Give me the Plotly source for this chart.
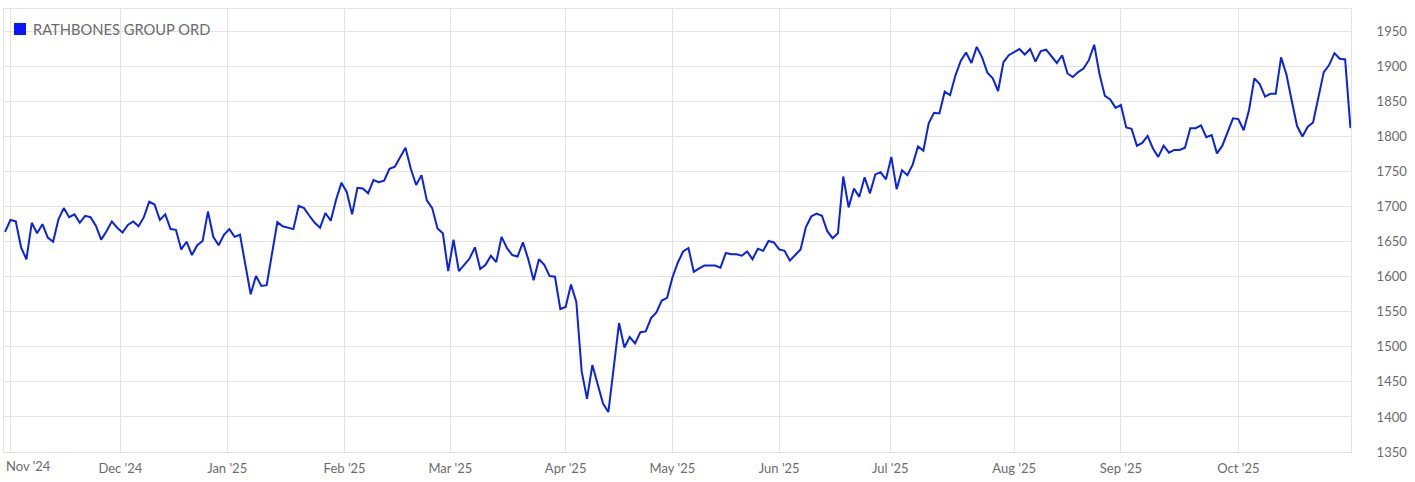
import plotly.graph_objects as go

series_name = "RATHBONES GROUP ORD"

# Daily closing prices (trading-day index 0 = 31 Oct 2024 ... 252 = 30 Oct 2025)
prices = [
    1664, 1681, 1679, 1642, 1625, 1677, 1662, 1675, 1656, 1650,
    1682, 1698, 1685, 1689, 1677, 1687, 1685, 1673, 1653, 1665,
    1679, 1670, 1663, 1674, 1679, 1672, 1685, 1707, 1703, 1681,
    1689, 1668, 1667, 1639, 1650, 1631, 1645, 1651, 1693, 1657,
    1645, 1660, 1668, 1657, 1660, 1615, 1575, 1601, 1587, 1588,
    1632, 1678, 1672, 1670, 1668, 1701, 1698, 1687, 1677, 1670,
    1691, 1680, 1710, 1734, 1721, 1689, 1727, 1726, 1719, 1738,
    1735, 1737, 1754, 1757, 1771, 1784, 1754, 1731, 1745, 1709,
    1698, 1669, 1662, 1608, 1653, 1608, 1617, 1626, 1642, 1611,
    1617, 1630, 1621, 1657, 1641, 1631, 1629, 1649, 1625, 1595,
    1625, 1617, 1601, 1600, 1554, 1557, 1589, 1564, 1465, 1426,
    1474, 1447, 1419, 1407, 1472, 1534, 1499, 1514, 1505, 1521,
    1522, 1541, 1549, 1566, 1570, 1599, 1620, 1636, 1641, 1607,
    1612, 1616, 1616, 1616, 1613, 1634, 1632, 1632, 1630, 1636,
    1625, 1640, 1637, 1651, 1649, 1639, 1637, 1623, 1631, 1639,
    1671, 1686, 1690, 1687, 1665, 1655, 1662, 1743, 1699, 1726,
    1714, 1742, 1719, 1746, 1749, 1739, 1771, 1725, 1752, 1745,
    1760, 1786, 1780, 1819, 1834, 1833, 1864, 1859, 1887, 1908,
    1920, 1905, 1928, 1913, 1891, 1883, 1865, 1906, 1916, 1920,
    1925, 1917, 1925, 1907, 1922, 1924, 1914, 1905, 1916, 1890,
    1885, 1892, 1897, 1909, 1931, 1889, 1858, 1853, 1841, 1845,
    1813, 1811, 1787, 1791, 1801, 1783, 1771, 1787, 1777, 1781,
    1781, 1784, 1812, 1812, 1816, 1799, 1802, 1776, 1787, 1808,
    1826, 1825, 1809, 1838, 1883, 1875, 1857, 1861, 1861, 1913,
    1889, 1851, 1815, 1800, 1814, 1820, 1856, 1892, 1902, 1919,
    1911, 1910, 1812,
]
day_index = list(range(len(prices)))

# Month boundaries on the trading-day axis and their labels
month_tick_pos = [1, 21.6, 41.6, 63.6, 83.4, 105, 125, 145, 165.8, 189, 209, 231]
month_labels = ["Nov '24", "Dec '24", "Jan '25", "Feb '25", "Mar '25", "Apr '25",
                "May '25", "Jun '25", "Jul '25", "Aug '25", "Sep '25", "Oct '25"]

y_ticks = [1350, 1400, 1450, 1500, 1550, 1600, 1650, 1700, 1750, 1800, 1850, 1900, 1950]

LINE = "#0a22e6"
GRID = "#e3e3e3"
TXT = "#6b6b6b"
FONT = "Lato"

fig = go.Figure()
fig.add_trace(go.Scatter(
    x=day_index, y=prices, mode="lines", name=series_name,
    line=dict(color=LINE, width=2), showlegend=False,
    hoverinfo="skip",
))

fig.update_layout(
    width=1415, height=482,
    margin=dict(l=4, r=64, t=9, b=30),
    paper_bgcolor="white", plot_bgcolor="white",
    font=dict(family=FONT, size=13, color=TXT),
    showlegend=False,
)

fig.update_xaxes(
    range=[-0.2, 252.1],
    tickmode="array", tickvals=month_tick_pos,
    ticktext=[""] + month_labels[1:],
    showgrid=True, gridcolor=GRID, gridwidth=1,
    showline=True, linecolor=GRID, linewidth=1, mirror=True,
    ticks="", zeroline=False, ticklabelstandoff=4,
    tickfont=dict(family=FONT, size=13, color=TXT),
)
fig.update_yaxes(
    side="right", range=[1350, 1982],
    tickmode="array", tickvals=y_ticks,
    showgrid=True, gridcolor=GRID, gridwidth=1,
    showline=True, linecolor=GRID, linewidth=1, mirror=True,
    ticks="", zeroline=False, ticklabelstandoff=22,
    tickfont=dict(family=FONT, size=13, color=TXT),
)

# First month label sits flush with the plot's left edge
fig.add_annotation(
    x=0, xref="paper", xanchor="left",
    y=0, yref="paper", yanchor="top", yshift=-4,
    text=month_labels[0], showarrow=False,
    font=dict(family=FONT, size=13, color=TXT),
)

# Legend key (square swatch + series name)
fig.add_shape(
    type="rect", xref="paper", yref="paper",
    xsizemode="pixel", ysizemode="pixel", xanchor=0, yanchor=1,
    x0=10, x1=22, y0=-26, y1=-14,
    fillcolor="#0a14ff", line=dict(width=0),
)
fig.add_annotation(
    x=0, xref="paper", xanchor="left", xshift=27,
    y=1, yref="paper", yanchor="middle", yshift=-20,
    text=series_name, showarrow=False,
    font=dict(family=FONT, size=14.7, color=TXT),
)

fig.write_html(
    "out.html",
    config={"displayModeBar": False},
    post_script="document.body.style.margin='0';document.body.style.padding='0';",
)
